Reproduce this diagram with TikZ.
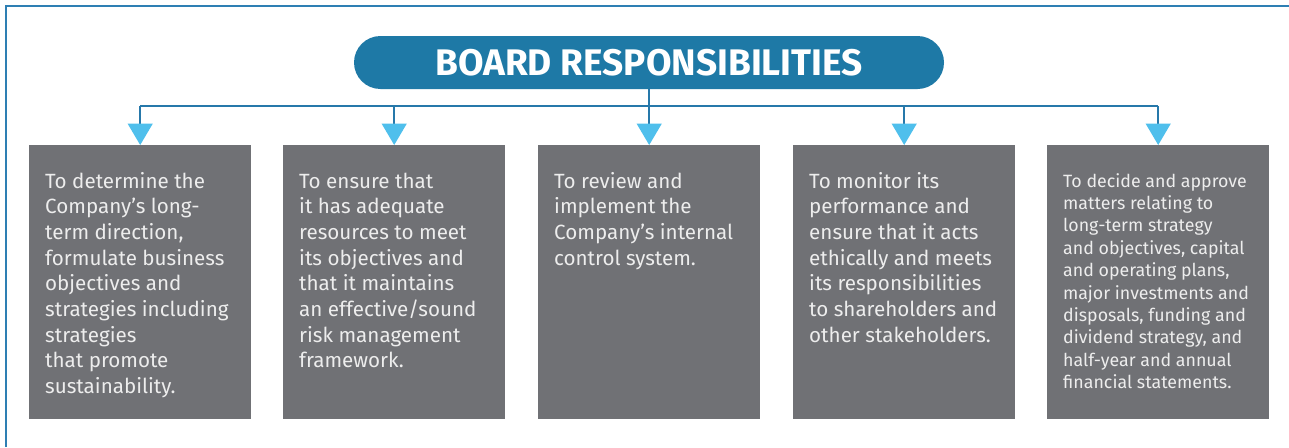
\documentclass[tikz,border=0pt]{standalone}
\usepackage{fontspec}
\setmainfont{Fira Sans}
\usetikzlibrary{arrows.meta}
\definecolor{frameblue}{HTML}{2E7FB3}
\definecolor{pillblue}{HTML}{1E79A6}
\definecolor{lineblue}{HTML}{2678AA}
\definecolor{arrowblue}{HTML}{4FBFEC}
\definecolor{boxgray}{HTML}{707175}
\definecolor{txtwhite}{HTML}{EDEDED}
\tikzset{
  respbox/.style={fill=boxgray, draw=none, minimum width=222pt, minimum height=274pt, inner sep=0pt, anchor=north west},
  resptext/.style={text=txtwhite, align=left, anchor=base west, inner sep=0pt, font=\fontsize{20.6}{25.7}\selectfont},
  smalltext/.style={text=txtwhite, align=left, anchor=base west, inner sep=0pt, font=\fontsize{17.8}{22.4}\selectfont},
  conn/.style={draw=lineblue, line width=1.5pt},
  arr/.style={conn, -{Triangle[width=25pt,length=21.5pt,color=arrowblue]}},
}
\begin{document}
\begin{tikzpicture}[x=1pt,y=-1pt]
\useasboundingbox (0,0) rectangle (1289,447);
\fill[white] (0,0) rectangle (1289,447);
\draw[frameblue, line width=2pt] (6,447) -- (6,5.5) -- (1289,5.5);

\node[fill=pillblue, rounded corners=26.5pt, minimum width=590pt, minimum height=53pt, inner sep=0pt,
      text=white, font=\fontsize{37}{37}\selectfont\bfseries] (title) at (649,62.5) {BOARD RESPONSIBILITIES};

\node[respbox] (b1) at (29,145) {};
\node[respbox] (b2) at (283,145) {};
\node[respbox] (b3) at (538,145) {};
\node[respbox] (b4) at (793,145) {};
\node[respbox] (b5) at (1047,145) {};

\coordinate (hub) at (649,106);
\draw[conn] (title.south) -- (hub);
\draw[conn] (b1.north |- hub) -- (b5.north |- hub);
\foreach \i in {1,...,5} {
  \draw[arr] (b\i.north |- hub) -- (b\i.north);
}

% base anchor = baseline of the last line; first baselines at 188 (boxes 1-4), 187 (box 5)
\node[resptext] (t1) at (45,393.6) {To determine the\\Company’s long-\\term direction,\\formulate business\\objectives and\\strategies including\\strategies\\that promote\\sustainability.};
\node[resptext] (t2) at (299,367.9) {To ensure that\\it has adequate\\resources to meet\\its objectives and\\that it maintains\\an effective/sound\\risk management\\framework.};
\node[resptext] (t3) at (554,265.1) {To review and\\implement the\\Company’s internal\\control system.};
\node[resptext] (t4) at (809,342.2) {To monitor its\\performance and\\ensure that it acts\\ethically and meets\\its responsibilities\\to shareholders and\\other stakeholders.};
\node[smalltext] (t5) at (1063,388.6) {To decide and approve\\matters relating to\\long-term strategy\\and objectives, capital\\and operating plans,\\major investments and\\disposals, funding and\\dividend strategy, and\\half-year and annual\\financial statements.};
\end{tikzpicture}
\end{document}
